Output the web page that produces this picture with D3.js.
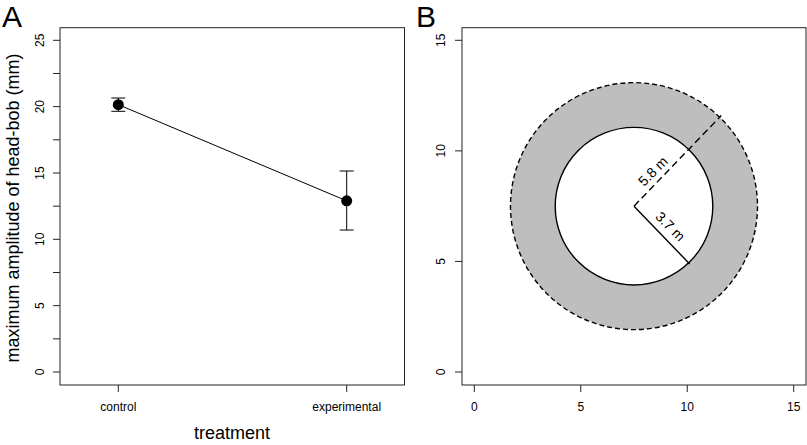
<!DOCTYPE html>
<html>
<head>
<meta charset="utf-8">
<script src="https://cdn.jsdelivr.net/npm/d3@7"></script>
<style>
  body { margin: 0; background: #fff; }
  text { font-family: "Liberation Sans", Arial, sans-serif; fill: #000; }
</style>
</head>
<body>
<svg id="fig" width="807" height="445"></svg>
<script>
// panel A data
const treatments = ['control', 'experimental'];
const means = [20.15, 12.9];
const lower = [19.65, 10.7];
const upper = [20.65, 15.15];
const yTicksA = [0, 5, 10, 15, 20, 25];
const yMinorA = [2.5, 7.5, 12.5, 17.5, 22.5];

// panel B data
const ringCenter = [7.5, 7.5];
const outerR = 5.8;
const innerR = 3.7;
const ticksB = [0, 5, 10, 15];

const svg = d3.select('#fig');
const tickLen = 7;

// ---------- panel A ----------
const boxA = {x0: 60, x1: 404.5, y0: 27.7, y1: 385};
const xA = d3.scaleLinear().domain([0, 1]).range([118.3, 346.7]);
const yA = d3.scaleLinear().domain([0, 25]).range([372, 40.3]);

const gA = svg.append('g');
gA.append('rect')
  .attr('x', boxA.x0).attr('y', boxA.y0)
  .attr('width', boxA.x1 - boxA.x0).attr('height', boxA.y1 - boxA.y0)
  .style('fill', 'none').style('stroke', '#222');

// y axis ticks (labelled every 5, minor every 2.5)
gA.selectAll('.ytick')
  .data(yTicksA.concat(yMinorA))
  .enter().append('line')
  .attr('x1', boxA.x0 - tickLen).attr('x2', boxA.x0)
  .attr('y1', d => yA(d)).attr('y2', d => yA(d))
  .style('stroke', '#222');
gA.selectAll('.ylab')
  .data(yTicksA)
  .enter().append('text')
  .attr('transform', d => `translate(44, ${yA(d)}) rotate(-90)`)
  .attr('text-anchor', 'middle')
  .attr('font-size', 12)
  .text(d => d);

// x ticks
gA.selectAll('.xtick')
  .data(treatments)
  .enter().append('line')
  .attr('x1', (d, i) => xA(i)).attr('x2', (d, i) => xA(i))
  .attr('y1', boxA.y1).attr('y2', boxA.y1 + tickLen)
  .style('stroke', '#222');
gA.selectAll('.xlab')
  .data(treatments)
  .enter().append('text')
  .attr('x', (d, i) => xA(i)).attr('y', 411)
  .attr('text-anchor', 'middle')
  .attr('font-size', 12)
  .text(d => d);

gA.append('text')
  .attr('x', 232).attr('y', 439)
  .attr('text-anchor', 'middle')
  .attr('font-size', 18)
  .text('treatment');
gA.append('text')
  .attr('transform', `translate(19, 208) rotate(-90)`)
  .attr('text-anchor', 'middle')
  .attr('font-size', 18)
  .text('maximum amplitude of head-bob (mm)');

// connecting line
const line = d3.line().x((d, i) => xA(i)).y(d => yA(d));
gA.append('path')
  .datum(means)
  .attr('d', line)
  .style('fill', 'none').style('stroke', '#000');

// error bars
const capW = 7;
const eb = gA.selectAll('.eb').data(treatments).enter().append('g');
eb.append('line')
  .attr('x1', (d, i) => xA(i)).attr('x2', (d, i) => xA(i))
  .attr('y1', (d, i) => yA(lower[i])).attr('y2', (d, i) => yA(upper[i]))
  .style('stroke', '#000');
eb.append('line')
  .attr('x1', (d, i) => xA(i) - capW).attr('x2', (d, i) => xA(i) + capW)
  .attr('y1', (d, i) => yA(lower[i])).attr('y2', (d, i) => yA(lower[i]))
  .style('stroke', '#000');
eb.append('line')
  .attr('x1', (d, i) => xA(i) - capW).attr('x2', (d, i) => xA(i) + capW)
  .attr('y1', (d, i) => yA(upper[i])).attr('y2', (d, i) => yA(upper[i]))
  .style('stroke', '#000');
eb.append('circle')
  .attr('cx', (d, i) => xA(i)).attr('cy', (d, i) => yA(means[i]))
  .attr('r', 5.5)
  .style('fill', '#000');

svg.append('text').attr('x', 2).attr('y', 26.5).attr('font-size', 30).text('A');

// ---------- panel B ----------
const boxB = {x0: 462, x1: 806, y0: 27.7, y1: 385};
const xB = d3.scaleLinear().domain([0, 15]).range([474.3, 793.7]);
const yB = d3.scaleLinear().domain([0, 15]).range([372, 40.3]);
const pxPerUnit = xB(1) - xB(0);

const gB = svg.append('g');

const cx = xB(ringCenter[0]), cy = yB(ringCenter[1]);
gB.append('circle')
  .attr('cx', cx).attr('cy', cy).attr('r', outerR * pxPerUnit)
  .style('fill', '#bebebe').style('stroke', '#000')
  .style('stroke-width', 1.4)
  .style('stroke-dasharray', '5,3');
gB.append('circle')
  .attr('cx', cx).attr('cy', cy).attr('r', innerR * pxPerUnit)
  .style('fill', '#fff').style('stroke', '#000')
  .style('stroke-width', 1.4);

const a = Math.PI / 4;
const c = Math.cos(a), s = Math.sin(a);
gB.append('line')
  .attr('x1', cx).attr('y1', cy)
  .attr('x2', xB(ringCenter[0] + outerR * c))
  .attr('y2', yB(ringCenter[1] + outerR * s))
  .style('stroke', '#000').style('stroke-width', 1.4)
  .style('stroke-dasharray', '7,4');
gB.append('line')
  .attr('x1', cx).attr('y1', cy)
  .attr('x2', xB(ringCenter[0] + innerR * c))
  .attr('y2', yB(ringCenter[1] - innerR * s))
  .style('stroke', '#000').style('stroke-width', 1.4);

// labels along the radii
const off = 6.5;
gB.append('text')
  .attr('transform', `translate(${cx + 38 * c - off * c}, ${cy - 38 * s - off * s}) rotate(-45)`)
  .attr('text-anchor', 'middle')
  .attr('font-size', 14)
  .text(`${outerR} m`);
gB.append('text')
  .attr('transform', `translate(${cx + 40 * c + off * c}, ${cy + 40 * s - off * s}) rotate(45)`)
  .attr('text-anchor', 'middle')
  .attr('font-size', 14)
  .text(`${innerR} m`);

gB.append('rect')
  .attr('x', boxB.x0).attr('y', boxB.y0)
  .attr('width', boxB.x1 - boxB.x0).attr('height', boxB.y1 - boxB.y0)
  .style('fill', 'none').style('stroke', '#222');

gB.selectAll('.ytick').data(ticksB).enter().append('line')
  .attr('x1', boxB.x0 - tickLen).attr('x2', boxB.x0)
  .attr('y1', d => yB(d)).attr('y2', d => yB(d))
  .style('stroke', '#222');
gB.selectAll('.ylab').data(ticksB).enter().append('text')
  .attr('transform', d => `translate(445, ${yB(d)}) rotate(-90)`)
  .attr('text-anchor', 'middle')
  .attr('font-size', 12)
  .text(d => d);
gB.selectAll('.xtick').data(ticksB).enter().append('line')
  .attr('x1', d => xB(d)).attr('x2', d => xB(d))
  .attr('y1', boxB.y1).attr('y2', boxB.y1 + tickLen)
  .style('stroke', '#222');
gB.selectAll('.xlab').data(ticksB).enter().append('text')
  .attr('x', d => xB(d)).attr('y', 411)
  .attr('text-anchor', 'middle')
  .attr('font-size', 12)
  .text(d => d);

svg.append('text').attr('x', 416).attr('y', 26.5).attr('font-size', 30).text('B');
</script>
</body>
</html>
